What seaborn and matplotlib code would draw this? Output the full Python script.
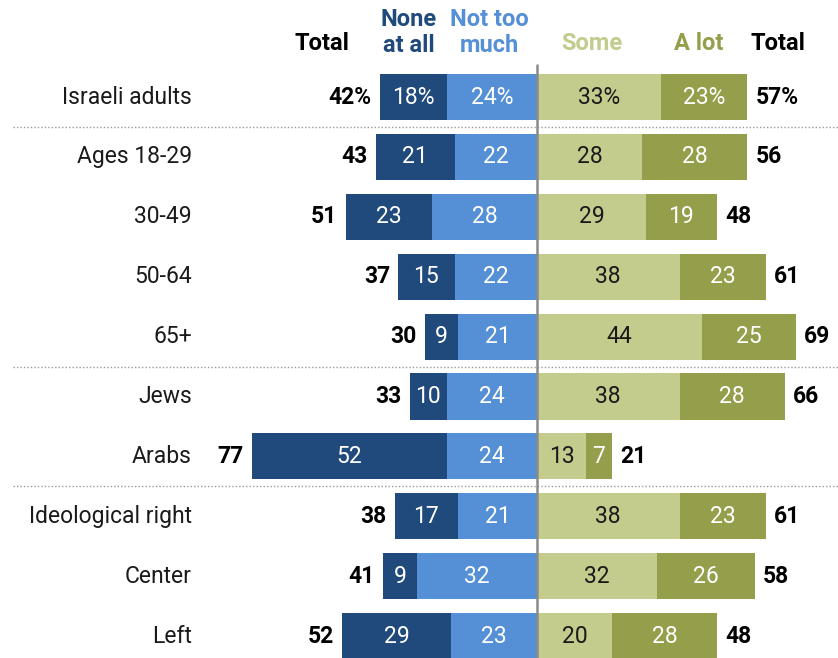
import pandas as pd
import matplotlib.pyplot as plt
import seaborn as sns

groups = ["Israeli adults", "Ages 18-29", "30-49", "50-64", "65+",
          "Jews", "Arabs", "Ideological right", "Center", "Left"]
none_at_all = [18, 21, 23, 15, 9, 10, 52, 17, 9, 29]
not_too_much = [24, 22, 28, 22, 21, 24, 24, 21, 32, 23]
some = [33, 28, 29, 38, 44, 38, 13, 38, 32, 20]
a_lot = [23, 28, 19, 23, 25, 28, 7, 23, 26, 28]
total_neg = [42, 43, 51, 37, 30, 33, 77, 38, 41, 52]
total_pos = [57, 56, 48, 61, 69, 66, 21, 61, 58, 48]

c_none = "#204a7c"
c_nottoo = "#5590d6"
c_some = "#c3cb8d"
c_alot = "#949e4b"

df = pd.DataFrame({"group": groups, "none": none_at_all, "nottoo": not_too_much,
                   "some": some, "alot": a_lot})
df["neg_all"] = -(df["none"] + df["nottoo"])
df["neg_in"] = -df["nottoo"]
df["pos_all"] = df["some"] + df["alot"]

sns.set_theme(style="white")
plt.rcParams["font.family"] = ["Roboto", "DejaVu Sans"]

fig = plt.figure(figsize=(8.38, 6.58), dpi=100)
ax = fig.add_axes([0, 0, 1, 1])

# stacked by overlapping: outer segment first, inner on top
bar_kw = dict(data=df, y="group", orient="h", width=0.77, saturation=1, linewidth=0, ax=ax)
sns.barplot(x="neg_all", color=c_none, **bar_kw)
sns.barplot(x="neg_in", color=c_nottoo, **bar_kw)
sns.barplot(x="pos_all", color=c_alot, **bar_kw)
sns.barplot(x="some", color=c_some, **bar_kw)

px = 3.75  # pixels per percentage point
ax.set_xlim(-537 / px, 301 / px)
ax.set_ylim((658 - 97) / 59.9, -97 / 59.9)
ax.axis("off")

def ypx(p):
    return (p - 97) / 59.9

def xpx(p):
    return (p - 537) / px

fs = 16.5
for i, row in df.iterrows():
    pct = "%" if i == 0 else ""
    ax.text(xpx(192), i, row["group"], ha="right", va="center", fontsize=fs, color="#1a1a1a")
    ax.text(-row["nottoo"] - row["none"] / 2, i, f"{row['none']}{pct}",
            ha="center", va="center", color="white", fontsize=fs)
    ax.text(-row["nottoo"] / 2, i, f"{row['nottoo']}{pct}",
            ha="center", va="center", color="white", fontsize=fs)
    ax.text(row["some"] / 2, i, f"{row['some']}{pct}",
            ha="center", va="center", color="#1a1a1a", fontsize=fs)
    ax.text(row["some"] + row["alot"] / 2, i, f"{row['alot']}{pct}",
            ha="center", va="center", color="white", fontsize=fs)
    ax.text(row["neg_all"] - 2.2, i, f"{total_neg[i]}{pct}",
            ha="right", va="center", fontsize=fs, fontweight="bold", color="black")
    ax.text(row["pos_all"] + 2.2, i, f"{total_pos[i]}{pct}",
            ha="left", va="center", fontsize=fs, fontweight="bold", color="black")

# center line and separators
ax.plot([0, 0], [ypx(65), ypx(658)], color="#8a8a8a", lw=1.8, zorder=5)
for y in [0.5, 4.5, 6.5]:
    ax.plot([xpx(13), xpx(838)], [y, y], color="#9a9a9a", lw=1, ls=(0, (1, 1.5)))

# column headers
hdr = dict(ha="center", va="center", fontsize=17, fontweight="bold")
ax.text(xpx(322), ypx(44), "Total", color="black", **hdr)
ax.text(xpx(409), ypx(19), "None", color=c_none, **hdr)
ax.text(xpx(409), ypx(45), "at all", color=c_none, **hdr)
ax.text(xpx(489), ypx(19), "Not too", color=c_nottoo, **hdr)
ax.text(xpx(489), ypx(45), "much", color=c_nottoo, **hdr)
ax.text(xpx(592), ypx(44), "Some", color=c_some, **hdr)
ax.text(xpx(699), ypx(44), "A lot", color=c_alot, **hdr)
ax.text(xpx(778), ypx(44), "Total", color="black", **hdr)

fig.savefig("out.png", dpi=100)
